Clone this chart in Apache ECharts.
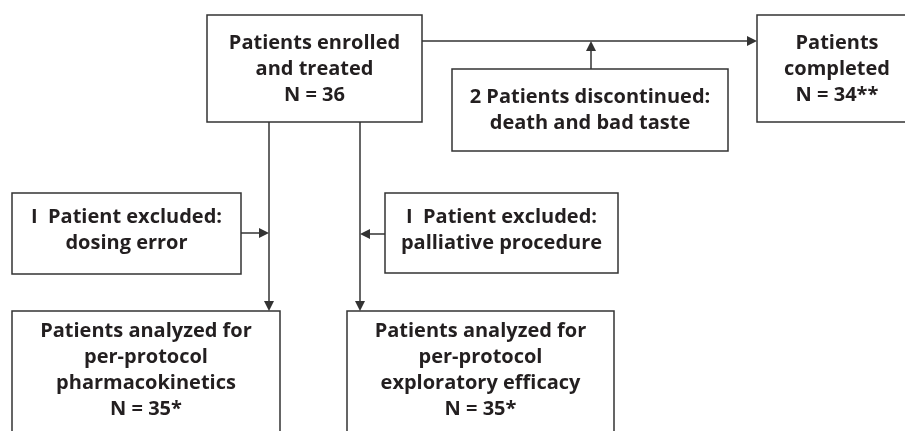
<!DOCTYPE html>
<html>
<head>
<meta charset="utf-8">
<script src="https://cdn.jsdelivr.net/npm/echarts@6/dist/echarts.min.js"></script>
<style>
  html, body { margin: 0; padding: 0; background: #fff; }
  #main { width: 905px; height: 431px; }
</style>
</head>
<body>
<div id="main"></div>
<script>
// flow chart content
const boxLabels = [
    'Patients enrolled\nand treated\nN = 36',
    'Patients\ncompleted\nN = 34**',
    '2 Patients discontinued:\ndeath and bad taste',
    'I  Patient excluded:\ndosing error',
    'I  Patient excluded:\npalliative procedure',
    'Patients analyzed for\nper-protocol\npharmacokinetics\nN = 35*',
    'Patients analyzed for\nper-protocol\nexploratory efficacy\nN = 35*'
];

// layout (pixel units of the hidden axes): x, y, width, height, text centre y
const boxLayout = [
    [207, 15, 215, 107, 69],
    [757, 15, 160, 107, 69],
    [452, 69, 276, 82, 110],
    [12, 193, 229, 81, 230],
    [385, 193, 233, 80, 230],
    [12, 311, 268, 130, 370],
    [347, 311, 267, 130, 370]
];

// connectors, arrow at the end point
const links = [
    [[422, 41], [752, 41]],
    [[591, 69], [591, 46]],
    [[269, 122], [269, 306]],
    [[360, 122], [360, 306]],
    [[241, 233], [264, 233]],
    [[385, 234], [365, 234]]
];

const myChart = echarts.init(document.getElementById('main'), null, {renderer: 'canvas'});

const textColor = '#231f20';
const lineColor = '#333';

let option = {
    animation: false,
    grid: {left: 0, right: 0, top: 0, bottom: 0},
    xAxis: {type: 'value', min: 0, max: 905, show: false},
    yAxis: {type: 'value', min: 0, max: 431, inverse: true, show: false},
    series: [
        {
            type: 'custom',
            coordinateSystem: 'cartesian2d',
            encode: {x: 0, y: 1},
            data: boxLayout.map((b, i) => [b[0], b[1], b[2], b[3], b[4], i]),
            renderItem: function (params, api) {
                const p0 = api.coord([api.value(0), api.value(1)]);
                const p1 = api.coord([api.value(0) + api.value(2), api.value(1) + api.value(3)]);
                const tc = api.coord([api.value(0) + api.value(2) / 2, api.value(4)]);
                return {
                    type: 'group',
                    children: [
                        {
                            type: 'rect',
                            shape: {x: p0[0], y: p0[1], width: p1[0] - p0[0], height: p1[1] - p0[1]},
                            style: {fill: '#fff', stroke: lineColor, lineWidth: 1.5}
                        },
                        {
                            type: 'text',
                            x: tc[0],
                            y: tc[1],
                            style: {
                                text: boxLabels[params.dataIndex],
                                align: 'center',
                                verticalAlign: 'middle',
                                font: 'bold 20px "Open Sans"',
                                lineHeight: 26,
                                fill: textColor
                            }
                        }
                    ]
                };
            }
        },
        {
            type: 'lines',
            coordinateSystem: 'cartesian2d',
            symbol: ['none', 'triangle'],
            symbolSize: 10,
            lineStyle: {color: lineColor, width: 1.5, opacity: 1},
            itemStyle: {color: lineColor},
            data: links.map(l => ({coords: l}))
        }
    ]
};
myChart.setOption(option);
</script>
</body>
</html>
